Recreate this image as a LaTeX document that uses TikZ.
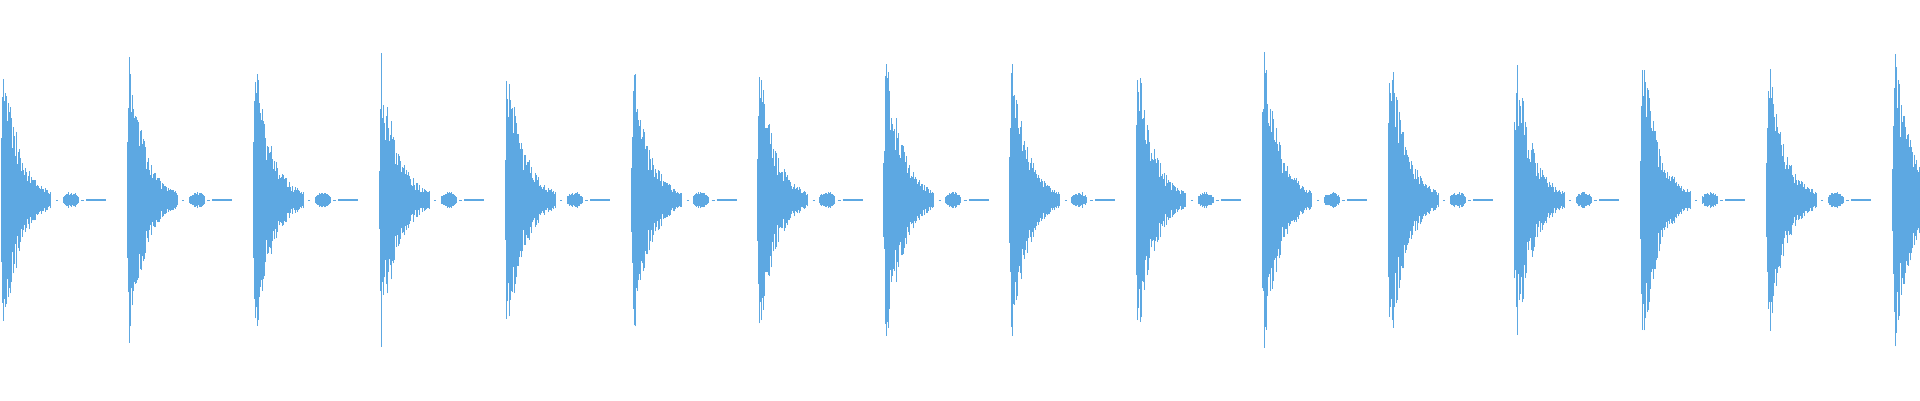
\documentclass[tikz,border=0pt]{standalone}
\definecolor{wave}{RGB}{93,168,226}
\begin{document}
\begin{tikzpicture}[x=1pt,y=1pt,wv/.style={draw=wave,line width=0.7pt}]
\useasboundingbox (0,0) rectangle (1920,400);
\pgfmathsetseed{11}
\foreach \k in {0,...,15}{
  \pgfmathsetmacro\xo{1+\k*126.1}
  \pgfmathsetmacro\amp{160+25*rnd}
  \foreach \i in {0,0.6,...,50}{
    \pgfmathsetmacro\h{\amp*min(1,(\i+1)/3)*exp(-\i/16)*(0.5+0.5*rnd)+1}
    \draw[wv] (\xo+\i,200-\h) -- (\xo+\i,200+\h);
  }
  \foreach \i in {62,63,...,77}{
    \pgfmathsetmacro\h{8*sin((\i-61)*180/17)^0.5*(0.6+0.4*rnd)+0.5}
    \draw[wv] (\xo+\i,200-\h) -- (\xo+\i,200+\h);
  }
  \draw[wv] (\xo+55,200) -- (\xo+57,200);
  \draw[wv] (\xo+80,200) -- (\xo+83,200);
  \draw[wv,line width=1.2pt] (\xo+85,200) -- (\xo+105,200);
}
\end{tikzpicture}
\end{document}
